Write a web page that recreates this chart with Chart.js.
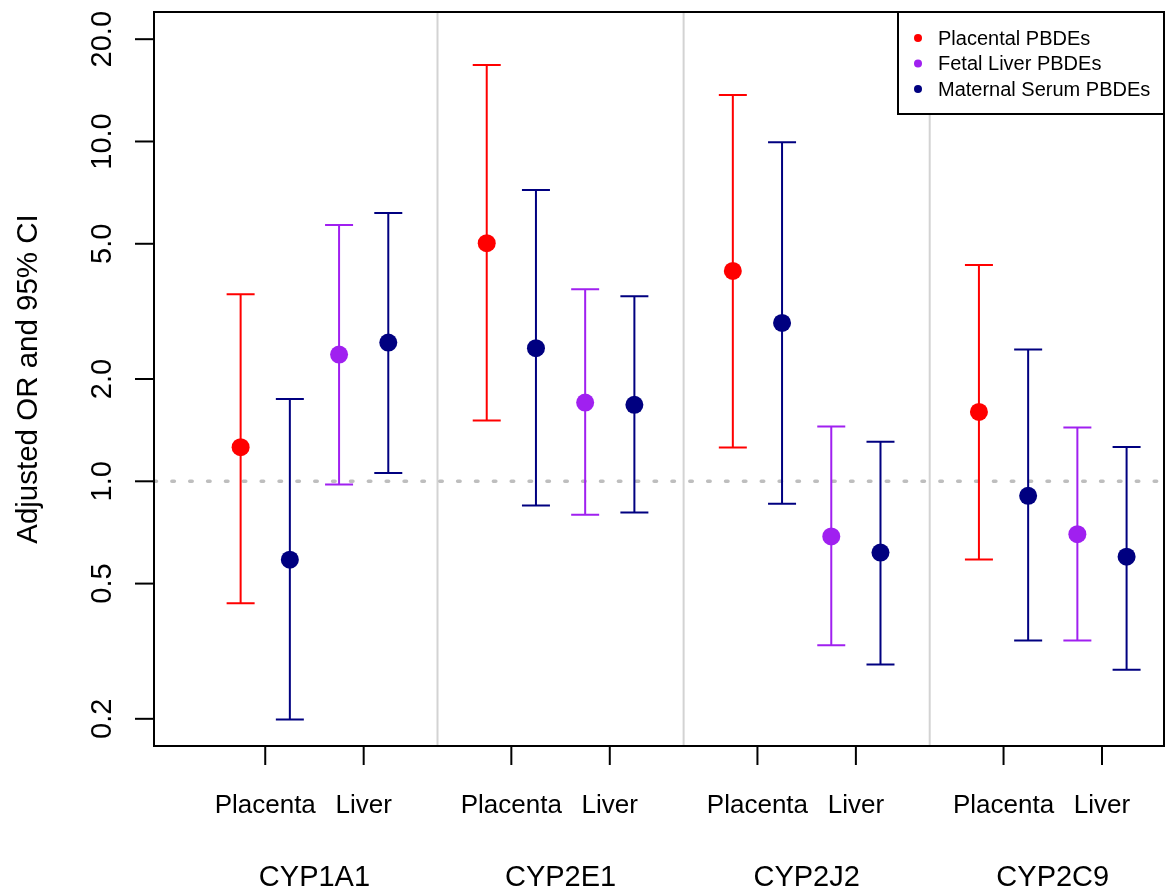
<!DOCTYPE html>
<html>
<head>
<meta charset="utf-8">
<script src="https://cdn.jsdelivr.net/npm/chart.js@4.4.1/dist/chart.umd.min.js"></script>
<style>
  html, body { margin: 0; padding: 0; background: #fff; overflow: hidden; }
  canvas { display: block; }
</style>
</head>
<body>
<canvas id="orChart" width="1166" height="896"></canvas>
<script>
// genes and the two tissue comparisons under each gene
const groups = ['CYP1A1', 'CYP2E1', 'CYP2J2', 'CYP2C9'];
const xTickLabels = ['Placenta', 'Liver'];

// adjusted OR with 95% CI, one entry per gene
const placentalOR = [1.26, 5.02, 4.16, 1.60];
const placentalLo = [0.438, 1.51, 1.257, 0.589];
const placentalHi = [3.55, 16.8, 13.7, 4.33];

const maternalPlacOR = [0.588, 2.465, 2.925, 0.906];
const maternalPlacLo = [0.199, 0.849, 0.859, 0.340];
const maternalPlacHi = [1.746, 7.20, 9.945, 2.441];

const fetalLiverOR = [2.36, 1.705, 0.688, 0.699];
const fetalLiverLo = [0.978, 0.797, 0.329, 0.340];
const fetalLiverHi = [5.68, 3.675, 1.449, 1.439];

const maternalLivOR = [2.56, 1.679, 0.617, 0.600];
const maternalLivLo = [1.057, 0.810, 0.289, 0.279];
const maternalLivHi = [6.16, 3.505, 1.307, 1.261];

// y axis ticks
const yTicks = [0.2, 0.5, 1, 2, 5, 10, 20];
const yTickLabels = ['0.2', '0.5', '1.0', '2.0', '5.0', '10.0', '20.0'];

const RED = '#FF0000', PURPLE = '#A020F0', NAVY = '#000080';
const FONT = '"Liberation Sans", Arial, Helvetica, sans-serif';

// each gene takes 5 slots: 2 placenta points, 2 liver points, 1 gap
const groupStep = 5;
const toPoints = (vals, slot) => vals.map((v, g) => ({ x: g * groupStep + slot, y: v }));

// R style 4% axis extension
const xLim = [-1, 18];
const xPad = (xLim[1] - xLim[0]) * 0.04;
const yLogLim = [Math.log10(0.2), Math.log10(20)];
const yPad = (yLogLim[1] - yLogLim[0]) * 0.04;

const rPlot = {
  id: 'rPlot',
  beforeDatasetsDraw(chart) {
    const { ctx, chartArea: a, scales: { x, y } } = chart;
    ctx.save();

    // light separators between genes
    ctx.strokeStyle = '#d3d3d3';
    ctx.lineWidth = 2;
    for (let g = 1; g < groups.length; g++) {
      const px = x.getPixelForValue(g * groupStep - 1);
      ctx.beginPath();
      ctx.moveTo(px, a.top);
      ctx.lineTo(px, a.bottom);
      ctx.stroke();
    }

    // OR = 1 reference
    const y1 = y.getPixelForValue(1);
    ctx.strokeStyle = '#bebebe';
    ctx.lineWidth = 3.5;
    ctx.lineCap = 'round';
    ctx.setLineDash([2.5, 15.36]);
    ctx.beginPath();
    ctx.moveTo(a.left, y1);
    ctx.lineTo(a.right, y1);
    ctx.stroke();
    ctx.setLineDash([]);
    ctx.lineCap = 'butt';

    // error bars
    chart.data.datasets.forEach((ds) => {
      ctx.strokeStyle = ds.backgroundColor;
      ctx.lineWidth = 2;
      ds.data.forEach((p, j) => {
        const px = x.getPixelForValue(p.x);
        const top = y.getPixelForValue(ds.errHi[j]);
        const bot = y.getPixelForValue(ds.errLo[j]);
        ctx.beginPath();
        ctx.moveTo(px, top); ctx.lineTo(px, bot);
        ctx.moveTo(px - 14, top); ctx.lineTo(px + 14, top);
        ctx.moveTo(px - 14, bot); ctx.lineTo(px + 14, bot);
        ctx.stroke();
      });
    });
    ctx.restore();
  },
  afterDraw(chart) {
    const { ctx, chartArea: a, scales: { x, y } } = chart;
    ctx.save();
    ctx.strokeStyle = '#000';
    ctx.fillStyle = '#000';
    ctx.lineWidth = 2;

    // box
    ctx.strokeRect(a.left, a.top, a.right - a.left, a.bottom - a.top);

    // y axis ticks + rotated labels
    ctx.font = '29px ' + FONT;
    ctx.textAlign = 'center';
    ctx.textBaseline = 'alphabetic';
    yTicks.forEach((v, i) => {
      const py = y.getPixelForValue(v);
      ctx.beginPath();
      ctx.moveTo(a.left - 19, py);
      ctx.lineTo(a.left, py);
      ctx.stroke();
      ctx.save();
      ctx.translate(111, py);
      ctx.rotate(-Math.PI / 2);
      ctx.fillText(yTickLabels[i], 0, 0);
      ctx.restore();
    });

    // y title
    ctx.save();
    ctx.font = '29.5px ' + FONT;
    ctx.translate(37, (a.top + a.bottom) / 2);
    ctx.rotate(-Math.PI / 2);
    ctx.fillText('Adjusted OR and 95% CI', 0, 0);
    ctx.restore();

    // x ticks, tissue labels, gene labels
    groups.forEach((name, g) => {
      xTickLabels.forEach((lab, k) => {
        const px = x.getPixelForValue(g * groupStep + 0.5 + 2 * k);
        ctx.beginPath();
        ctx.moveTo(px, a.bottom);
        ctx.lineTo(px, a.bottom + 19);
        ctx.stroke();
        ctx.font = '26px ' + FONT;
        ctx.fillText(lab, px, 813);
      });
      ctx.font = '29px ' + FONT;
      ctx.fillText(name, x.getPixelForValue(g * groupStep + 1.5), 886);
    });

    // legend, top right inside the plot
    const seen = [];
    chart.data.datasets.forEach(ds => {
      if (!seen.find(e => e.label === ds.label)) seen.push({ label: ds.label, color: ds.backgroundColor });
    });
    const lx = 898, ly = a.top, lw = a.right - lx, lh = 102;
    ctx.fillStyle = '#fff';
    ctx.fillRect(lx, ly, lw, lh);
    ctx.strokeRect(lx, ly, lw, lh);
    ctx.font = '20px ' + FONT;
    ctx.textAlign = 'left';
    seen.forEach((e, i) => {
      const base = ly + 32.5 + i * 25.5;
      ctx.fillStyle = e.color;
      ctx.beginPath();
      ctx.arc(918, base - 6.5, 4, 0, Math.PI * 2);
      ctx.fill();
      ctx.fillStyle = '#000';
      ctx.fillText(e.label, 938, base);
    });
    ctx.restore();
  }
};

const mkSet = (label, color, or, lo, hi, slot) => ({
  label: label,
  data: toPoints(or, slot),
  errLo: lo,
  errHi: hi,
  backgroundColor: color,
  borderColor: color,
  pointRadius: 9,
  pointHoverRadius: 9,
  pointBorderWidth: 0
});

const orChart = new Chart(document.getElementById('orChart'), {
  type: 'scatter',
  data: {
    datasets: [
      mkSet('Placental PBDEs', RED, placentalOR, placentalLo, placentalHi, 0),
      mkSet('Fetal Liver PBDEs', PURPLE, fetalLiverOR, fetalLiverLo, fetalLiverHi, 2),
      mkSet('Maternal Serum PBDEs', NAVY, maternalPlacOR, maternalPlacLo, maternalPlacHi, 1),
      mkSet('Maternal Serum PBDEs', NAVY, maternalLivOR, maternalLivLo, maternalLivHi, 3)
    ]
  },
  options: {
    responsive: false,
    animation: false,
    devicePixelRatio: 1,
    layout: { autoPadding: false, padding: { left: 154, right: 2, top: 12, bottom: 150 } },
    plugins: { legend: { display: false }, tooltip: { enabled: false } },
    scales: {
      x: { type: 'linear', display: false, min: xLim[0] - xPad, max: xLim[1] + xPad },
      y: {
        type: 'logarithmic', display: false,
        min: Math.pow(10, yLogLim[0] - yPad),
        max: Math.pow(10, yLogLim[1] + yPad)
      }
    }
  },
  plugins: [rPlot]
});
</script>
</body>
</html>
